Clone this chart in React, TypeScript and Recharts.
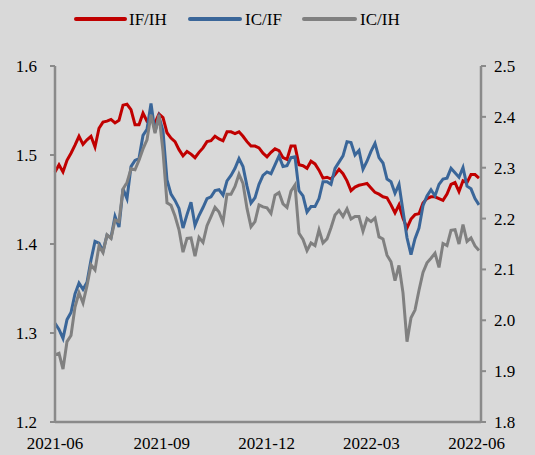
import React from 'react';
import { LineChart, Line, XAxis, YAxis } from 'recharts';

// IF/IH ratio (left axis)
const ifIh = [
  1.481, 1.489, 1.481, 1.494, 1.502, 1.511, 1.521, 1.512, 1.517, 1.521,
  1.509, 1.530, 1.537, 1.538, 1.540, 1.536, 1.539, 1.556, 1.557, 1.551,
  1.534, 1.534, 1.547, 1.538, 1.539, 1.536, 1.546, 1.542, 1.525, 1.519,
  1.515, 1.506, 1.499, 1.504, 1.501, 1.497, 1.503, 1.508, 1.515, 1.516,
  1.521, 1.518, 1.516, 1.526, 1.526, 1.524, 1.526, 1.521, 1.515, 1.510,
  1.510, 1.508, 1.502, 1.498, 1.503, 1.507, 1.505, 1.497, 1.495, 1.510,
  1.510, 1.489, 1.488, 1.485, 1.493, 1.490, 1.483, 1.474, 1.475, 1.473,
  1.478, 1.484, 1.479, 1.471, 1.460, 1.464, 1.466, 1.467, 1.468, 1.463,
  1.458, 1.456, 1.453, 1.452, 1.444, 1.435, 1.444, 1.429, 1.418, 1.428,
  1.433, 1.434, 1.446, 1.451, 1.453, 1.453, 1.451, 1.449, 1.456, 1.467,
  1.469, 1.459, 1.471, 1.469, 1.478, 1.478, 1.474,
];

// IC/IF ratio (left axis)
const icIf = [
  1.311, 1.304, 1.294, 1.315, 1.323, 1.344, 1.356, 1.349, 1.357, 1.382,
  1.403, 1.401, 1.392, 1.410, 1.407, 1.431, 1.419, 1.462, 1.451, 1.487,
  1.494, 1.496, 1.522, 1.529, 1.558, 1.526, 1.543, 1.527, 1.472, 1.456,
  1.449, 1.440, 1.418, 1.433, 1.447, 1.421, 1.432, 1.441, 1.451, 1.453,
  1.460, 1.461, 1.455, 1.471, 1.477, 1.485, 1.496, 1.487, 1.465, 1.446,
  1.452, 1.467, 1.477, 1.481, 1.479, 1.489, 1.499, 1.487, 1.488, 1.497,
  1.498, 1.460, 1.454, 1.436, 1.442, 1.442, 1.451, 1.470, 1.470, 1.467,
  1.485, 1.492, 1.499, 1.515, 1.514, 1.500, 1.505, 1.484, 1.493, 1.504,
  1.513, 1.497, 1.491, 1.473, 1.470, 1.457, 1.467, 1.437, 1.407, 1.388,
  1.406, 1.418, 1.443, 1.454, 1.461, 1.454, 1.467, 1.473, 1.474, 1.485,
  1.480, 1.475, 1.486, 1.465, 1.462, 1.451, 1.444,
];

// IC/IH ratio (right axis)
const icIh = [
  1.932, 1.935, 1.904, 1.958, 1.970, 2.026, 2.054, 2.034, 2.068, 2.109,
  2.099, 2.146, 2.133, 2.168, 2.161, 2.197, 2.194, 2.258, 2.271, 2.298,
  2.296, 2.315, 2.337, 2.355, 2.404, 2.368, 2.404, 2.332, 2.231, 2.226,
  2.205, 2.178, 2.134, 2.161, 2.162, 2.126, 2.163, 2.153, 2.186, 2.204,
  2.222, 2.213, 2.193, 2.248, 2.248, 2.263, 2.287, 2.269, 2.220, 2.184,
  2.194, 2.227, 2.223, 2.221, 2.210, 2.246, 2.251, 2.229, 2.222, 2.254,
  2.266, 2.171, 2.159, 2.137, 2.152, 2.147, 2.178, 2.152, 2.160, 2.182,
  2.207, 2.216, 2.204, 2.219, 2.199, 2.204, 2.204, 2.175, 2.200, 2.194,
  2.201, 2.164, 2.160, 2.128, 2.115, 2.078, 2.108, 2.054, 1.958, 2.005,
  2.020, 2.059, 2.094, 2.113, 2.122, 2.132, 2.104, 2.151, 2.147, 2.177,
  2.178, 2.150, 2.188, 2.155, 2.162, 2.146, 2.137,
];

const tickPositions = [0, 26.7, 52.9, 79.1, 105.4];
const tickLabels = ['2021-06', '2021-09', '2021-12', '2022-03', '2022-06'];
const leftTicks = [1.2, 1.3, 1.4, 1.5, 1.6];
const rightTicks = [1.8, 1.9, 2.0, 2.1, 2.2, 2.3, 2.4, 2.5];

const seriesNames = ['IF/IH', 'IC/IF', 'IC/IH'];
const seriesColors = ['#c00000', '#3a6699', '#808080'];

const data = ifIh.map((v, i) => ({ i, ifIh: v, icIf: icIf[i], icIh: icIh[i] }));

const FONT = '"Liberation Serif", "Times New Roman", serif';
const AXIS = '#8a8a8a';
const tickStyle = { fill: '#000', fontSize: 17, fontFamily: FONT };

const legendX = [[76, 125, 129], [190, 240, 245], [304, 355, 360]];

export default function App() {
  return (
    <div
      style={{
        position: 'absolute',
        left: 0,
        top: 0,
        width: 535,
        height: 455,
        background: '#d9d9d9',
        fontFamily: FONT,
        overflow: 'hidden',
      }}
    >
      <svg width={535} height={40} style={{ position: 'absolute', left: 0, top: 0 }}>
        {seriesNames.map((name, idx) => (
          <g key={name}>
            <line
              x1={legendX[idx][0]}
              x2={legendX[idx][1]}
              y1={19}
              y2={19}
              stroke={seriesColors[idx]}
              strokeWidth={4}
              strokeLinecap="round"
            />
            <text x={legendX[idx][2]} y={24.5} fontSize={17} fontFamily={FONT} fill="#000">
              {name}
            </text>
          </g>
        ))}
      </svg>
      <div style={{ position: 'absolute', left: 0, top: 0 }}>
        <LineChart
          width={535}
          height={455}
          data={data}
          margin={{ top: 66, right: 0, bottom: 0, left: 0 }}
        >
          <XAxis
            dataKey="i"
            type="number"
            domain={[0, 106.5]}
            ticks={tickPositions}
            interval={0}
            tickFormatter={(v) => tickLabels[tickPositions.indexOf(v)]}
            height={33}
            tickLine={false}
            tickSize={0}
            tickMargin={15}
            axisLine={{ stroke: AXIS, strokeWidth: 2.5 }}
            tick={tickStyle}
            yAxisId={undefined}
          />
          <YAxis
            yAxisId="left"
            orientation="left"
            width={55}
            domain={[1.2, 1.6]}
            ticks={leftTicks}
            interval={0}
            tickFormatter={(v) => Number(v).toFixed(1)}
            tickSize={5}
            tickMargin={13}
            axisLine={{ stroke: AXIS, strokeWidth: 2.5 }}
            tickLine={{ stroke: AXIS, strokeWidth: 2 }}
            tick={tickStyle}
          />
          <YAxis
            yAxisId="right"
            orientation="right"
            width={54}
            domain={[1.8, 2.5]}
            ticks={rightTicks}
            interval={0}
            tickFormatter={(v) => Number(v).toFixed(1)}
            tickSize={5}
            tickMargin={8}
            axisLine={{ stroke: AXIS, strokeWidth: 2.5 }}
            tickLine={{ stroke: AXIS, strokeWidth: 2 }}
            tick={tickStyle}
          />
          <Line
            yAxisId="left"
            dataKey="ifIh"
            name={seriesNames[0]}
            stroke={seriesColors[0]}
            strokeWidth={3}
            dot={false}
            isAnimationActive={false}
          />
          <Line
            yAxisId="left"
            dataKey="icIf"
            name={seriesNames[1]}
            stroke={seriesColors[1]}
            strokeWidth={3}
            dot={false}
            isAnimationActive={false}
          />
          <Line
            yAxisId="right"
            dataKey="icIh"
            name={seriesNames[2]}
            stroke={seriesColors[2]}
            strokeWidth={3}
            dot={false}
            isAnimationActive={false}
          />
        </LineChart>
      </div>
    </div>
  );
}
